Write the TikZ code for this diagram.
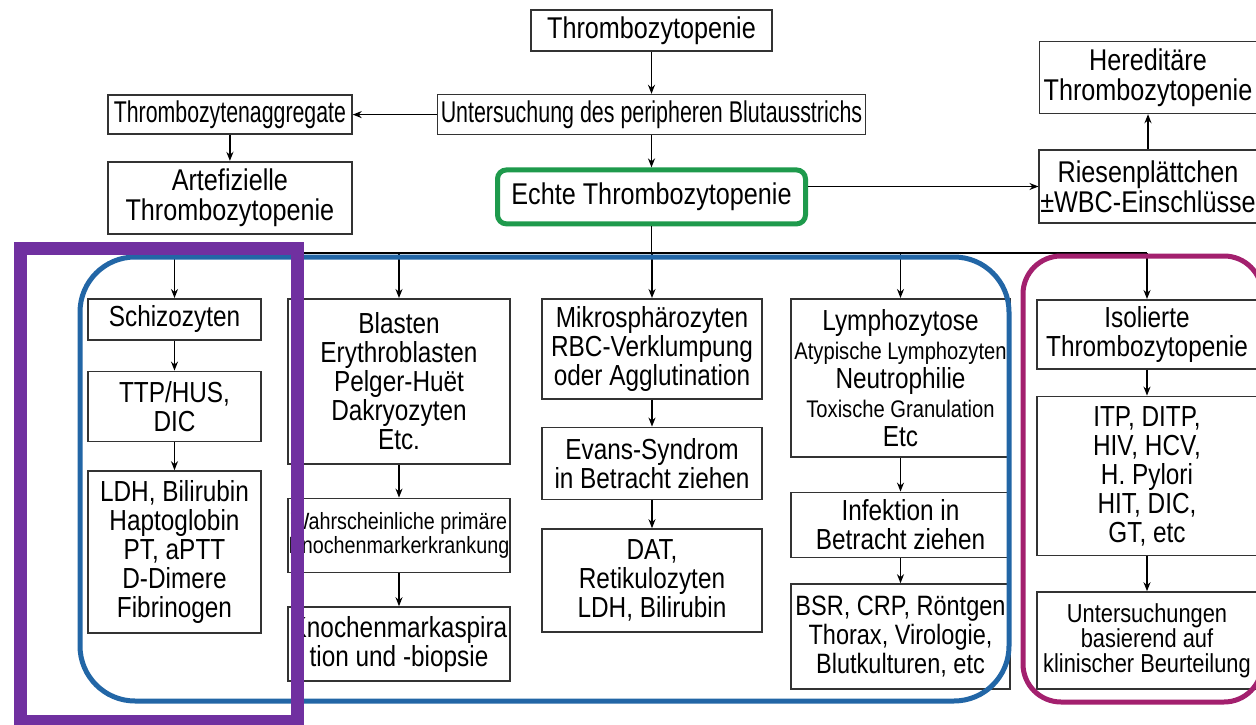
\documentclass[tikz,border=0pt]{standalone}
\usepackage{fontspec}
\setmainfont{Liberation Sans}[FakeStretch=0.84]
\usetikzlibrary{positioning,arrows.meta}

\definecolor{boxline}{HTML}{333333}
\definecolor{echtegreen}{HTML}{1E9A4C}
\definecolor{grpblue}{HTML}{2266A6}
\definecolor{grpmagenta}{HTML}{A3206E}
\definecolor{grppurple}{HTML}{7030A0}

\newcommand{\squeeze}[2]{\scalebox{#1}[1]{#2}}
\newcommand{\smalltxt}{\fontsize{24}{29}\selectfont}

\tikzset{
  box/.style={draw=boxline, line width=1.6pt, fill=white, align=center,
    inner sep=1pt, font=\fontsize{29}{29}\selectfont},
  topbox/.style={box, font=\fontsize{30}{30}\selectfont},
  flow/.style={-{Stealth[length=9pt,width=7pt]}, line width=1.5pt},
  group/.style={line width=5pt},
}

\begin{document}
\begin{tikzpicture}[x=1pt,y=-1pt]
\useasboundingbox[fill=white] (0,0) rectangle (1256,725);

% upper part
\node[topbox, minimum width=241pt, minimum height=41pt] (thr) at (651.5,30.5) {Thrombozytopenie};
\node[topbox, minimum width=428pt, minimum height=40pt, below=42pt of thr] (unters)
  {\squeeze{0.85}{Untersuchung des peripheren Blutausstrichs}};
\node[topbox, minimum width=244pt, minimum height=39pt, left=84pt of unters] (aggr)
  {\squeeze{0.845}{Thrombozytenaggregate}};
\node[topbox, minimum width=244pt, minimum height=72pt, below=26pt of aggr] (artef)
  {Artefizielle\\Thrombozytopenie};
\node[topbox, draw=echtegreen, line width=5pt, rounded corners=9pt,
  minimum width=308pt, minimum height=54pt, below=32pt of unters] (echte) {Echte Thrombozytopenie};
\node[topbox, minimum width=217pt, minimum height=73pt] (riesen) at (1148,186.5)
  {Riesenplättchen\\±WBC-Einschlüsse};
\node[topbox, minimum width=217pt, minimum height=72pt, above=35pt of riesen] (hered)
  {Hereditäre\\Thrombozytopenie};

\draw[flow] (thr) -- (unters);
\draw[flow] (unters) -- (aggr);
\draw[flow] (aggr) -- (artef);
\draw[flow] (unters) -- (echte);
\draw[flow] (echte.east |- riesen) -- (riesen.west);
\draw[flow] (riesen) -- (hered);

% columns
\node[box, minimum width=173pt, minimum height=41pt, anchor=north] (schizo) at (174.5,298) {Schizozyten};
\node[box, minimum width=173pt, minimum height=70pt, below=30pt of schizo] (ttp) {TTP/HUS,\\DIC};
\node[box, minimum width=173pt, minimum height=162pt, below=28pt of ttp] (ldh)
  {LDH, Bilirubin\\Haptoglobin\\PT, aPTT\\D-Dimere\\Fibrinogen};

\node[box, minimum width=222pt, minimum height=165pt, anchor=north] (blasten) at (399,298)
  {Blasten\\Erythroblasten\\Pelger-Huët\\Dakryozyten\\Etc.};
\node[box, font=\fontsize{23.5}{24}\selectfont, inner xsep=0pt, minimum width=222pt, minimum height=74pt,
  below=33pt of blasten] (wahrsch) {Wahrscheinliche primäre\\Knochenmarkerkrankung};
\node[box, minimum width=222pt, minimum height=74pt, below=33pt of wahrsch] (knochen)
  {Knochenmarkaspira\\tion und -biopsie};

\node[box, minimum width=220pt, minimum height=100pt, anchor=north] (mikro) at (652,298)
  {Mikrosphärozyten\\RBC-Verklumpung\\oder Agglutination};
\node[box, minimum width=220pt, minimum height=72pt, below=27pt of mikro] (evans)
  {Evans-Syndrom\\in Betracht ziehen};
\node[box, minimum width=220pt, minimum height=103pt, below=28pt of evans] (dat)
  {DAT,\\Retikulozyten\\LDH, Bilirubin};

\node[box, minimum width=219pt, minimum height=158pt, anchor=north] (lympho) at (900.5,298)
  {Lymphozytose\\{\smalltxt Atypische Lymphozyten}\\Neutrophilie\\{\smalltxt Toxische Granulation}\\Etc};
\node[box, minimum width=219pt, minimum height=65pt, below=34pt of lympho] (infekt)
  {Infektion in\\Betracht ziehen};
\node[box, font=\fontsize{28}{29}\selectfont, minimum width=219pt, minimum height=105pt,
  below=25pt of infekt] (bsr) {BSR, CRP, Röntgen\\Thorax, Virologie,\\Blutkulturen, etc};

\node[box, minimum width=220pt, minimum height=69pt, anchor=north] (iso) at (1147,299)
  {Isolierte\\Thrombozytopenie};
\node[box, minimum width=220pt, minimum height=159pt, below=26pt of iso] (itp)
  {ITP, DITP,\\HIV, HCV,\\H. Pylori\\HIT, DIC,\\GT, etc};
\node[box, font=\fontsize{26}{25}\selectfont, minimum width=220pt, minimum height=97pt,
  below=35pt of itp] (klin) {Untersuchungen\\basierend auf\\klinischer Beurteilung};

\foreach \a/\b in {schizo/ttp,ttp/ldh,blasten/wahrsch,wahrsch/knochen,mikro/evans,evans/dat,
                   lympho/infekt,infekt/bsr,iso/itp,itp/klin}
  \draw[flow] (\a) -- (\b);

% split below Echte Thrombozytopenie
\coordinate (bus) at (651.5,253);
\draw[line width=1.5pt] (echte) -- (bus);
\draw[line width=1.5pt] (schizo |- bus) -- (iso |- bus);
\foreach \n in {schizo,blasten,mikro,lympho,iso}
  \draw[flow] (\n |- bus) -- (\n);

% groups
\draw[group, draw=grpblue, rounded corners=55pt] (80,257) rectangle (1009,701);
\draw[group, draw=grpmagenta, rounded corners=38pt] (1023,256) rectangle (1262,702);
\draw[line width=13pt, draw=grppurple] (20,248) rectangle (297,721);
\end{tikzpicture}
\end{document}
